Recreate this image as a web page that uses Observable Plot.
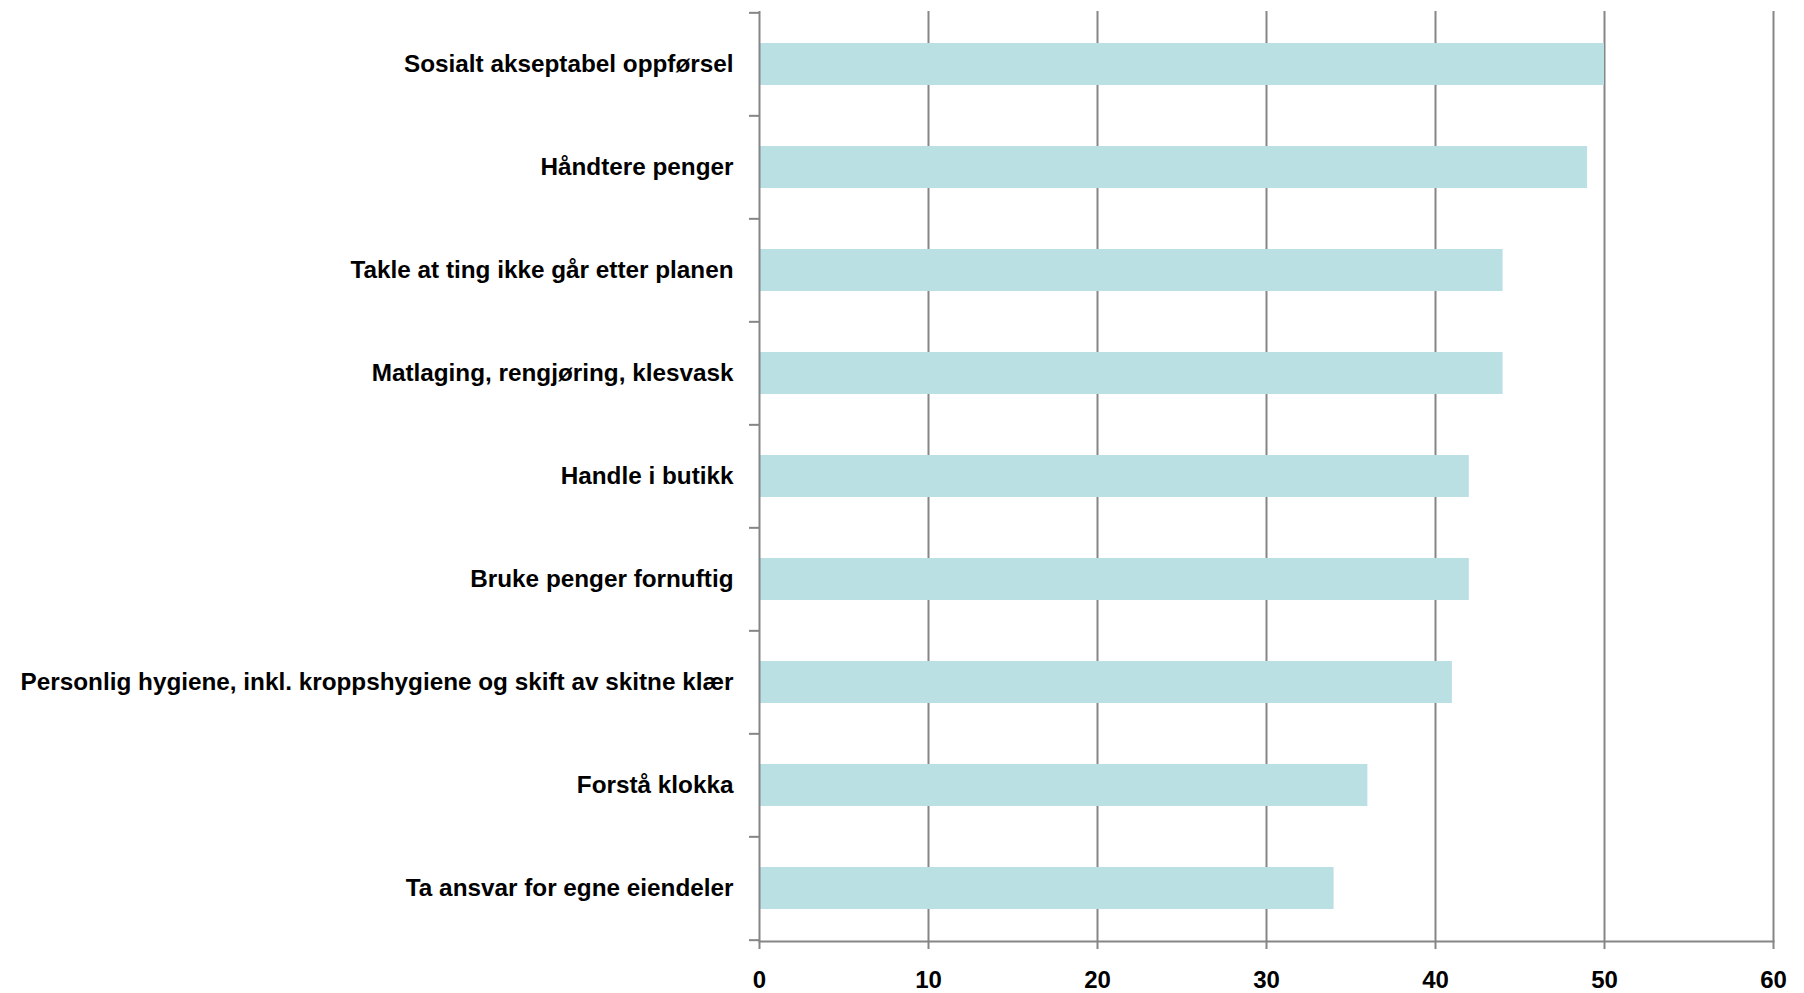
<!DOCTYPE html>
<html>
<head>
<meta charset="utf-8">
<script src="https://cdn.jsdelivr.net/npm/d3@7"></script>
<script src="https://cdn.jsdelivr.net/npm/@observablehq/plot@0.6"></script>
<style>
  html, body { margin: 0; padding: 0; background: #fff; }
  svg { display: block; }
</style>
</head>
<body>
<div id="chart"></div>
<script>
const categories = [
  "Sosialt akseptabel oppførsel",
  "Håndtere penger",
  "Takle at ting ikke går etter planen",
  "Matlaging, rengjøring, klesvask",
  "Handle i butikk",
  "Bruke penger fornuftig",
  "Personlig hygiene, inkl. kroppshygiene og skift av skitne klær",
  "Forstå klokka",
  "Ta ansvar for egne eiendeler"
];
const values = [50, 49, 44, 44, 42, 42, 41, 36, 34];
const xTicks = [0, 10, 20, 30, 40, 50, 60];

const data = categories.map((c, i) => ({category: c, value: values[i]}));

const W = 1804, H = 993, mt = 11, mb = 52, ml = 759, mr = 31;
const step = (H - mt - mb) / categories.length;
const gray = "#868686";

const chart = Plot.plot({
  width: W, height: H,
  marginLeft: ml, marginRight: mr, marginTop: mt, marginBottom: mb,
  style: {fontFamily: "'Liberation Sans', Arial, sans-serif", fontSize: "24px", fontWeight: "bold", color: "#000", background: "#fff"},
  x: {domain: [0, 60], ticks: xTicks},
  y: {domain: categories, paddingInner: 0.59, paddingOuter: 0.295},
  marks: [
    Plot.ruleX(xTicks.filter(v => v > 0), {stroke: gray, strokeWidth: 2}),
    Plot.barX(data, {x: "value", y: "category", fill: "#BBE0E3"}),
    Plot.ruleX([0], {stroke: gray, strokeWidth: 2}),
    Plot.frame({anchor: "bottom", stroke: gray, strokeWidth: 2}),
    Plot.axisX({ticks: xTicks, tickSize: 8, tickPadding: 21, stroke: gray, strokeWidth: 2, fill: "#000", fontSize: 24, fontWeight: "bold", label: null}),
    Plot.axisY({tickSize: 0, tickPadding: 26, fill: "#000", fontSize: 24.3, fontWeight: "bold", label: null}),
    Plot.axisY({text: null, tickSize: 10, dy: -step / 2, stroke: gray, strokeWidth: 2, label: null}),
    Plot.axisY([categories[categories.length - 1]], {text: null, tickSize: 10, dy: step / 2, stroke: gray, strokeWidth: 2, label: null})
  ]
});
document.getElementById("chart").appendChild(chart);
</script>
</body>
</html>
